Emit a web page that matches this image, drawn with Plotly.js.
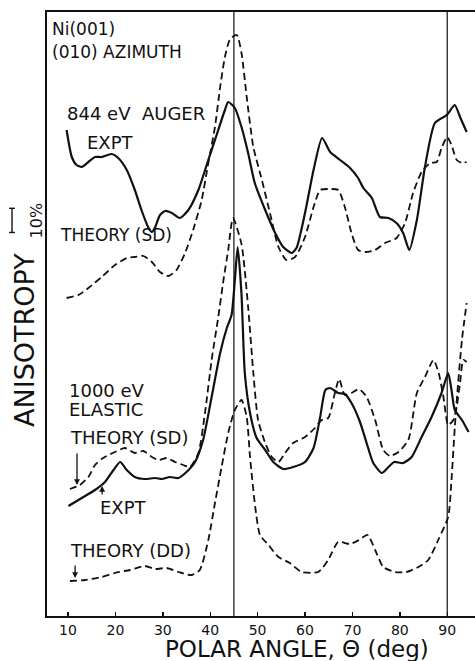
<!DOCTYPE html>
<html>
<head>
<meta charset="utf-8">
<script src="https://cdn.plot.ly/plotly-3.0.1.min.js"></script>
<style>html,body{margin:0;padding:0;background:#fff;}#chart{width:475px;height:661px;}</style>
</head>
<body>
<div id="chart"></div>
<script>
// Polar angle (deg) and anisotropy (arbitrary offset units)
const augerExptX = [9.7,10.8,11.8,12.9,14.3,15.7,17.1,19.2,20.6,22.4,24.1,25.5,26.9,27.7,28.4,29.4,30.5,31.9,33.6,35.4,37.5,39.6,41.7,43.1,43.8,45.2,46.6,48.0,49.4,51.6,53.7,55.4,57.2,58.2,60.0,61.8,63.6,65.3,67.4,69.5,71.2,72.3,74.1,75.8,77.6,79.3,80.7,82.0,83.6,85.3,87.4,89.9,91.6,92.7,94.1];
const augerExptY = [486,459,451,449,454,459,459,462,458,446,426,406,389,384,389,401,405,403,398,406,426,456,486,506,514,508,489,463,433,406,383,369,363,368,403,446,478,464,456,448,438,428,418,399,398,393,383,366,396,449,493,501,511,499,484];

const augerSdX = [9.7,12.2,14.3,17.1,19.9,22.4,24.1,25.9,27.7,29.4,31.2,32.9,34.7,36.4,38.2,39.6,41.0,42.1,43.1,44.2,45.6,46.6,47.7,49.1,50.9,52.6,54.4,56.1,57.9,60.0,61.8,63.2,64.9,67.0,68.4,69.8,71.2,72.7,74.8,76.9,79.3,81.1,82.8,84.6,86.4,87.8,88.8,90.0,90.9,92.0,93.1,94.1];
const augerSdY = [318,321,328,339,351,358,359,360,354,344,340,346,363,386,416,453,489,529,559,577,581,563,519,469,436,403,369,356,359,379,409,426,427,426,409,383,366,364,366,373,378,393,423,444,453,454,468,479,471,456,453,454];

const elasticSdX = [10.4,12.5,14.3,15.7,17.4,19.9,22.0,24.1,25.9,27.7,29.1,30.8,32.6,34.3,35.7,37.5,38.9,40.3,41.7,42.8,43.8,44.8,46.6,48.0,49.1,50.1,51.6,53.0,54.4,55.8,57.5,60.0,62.1,63.5,64.9,66.3,67.2,68.4,69.8,71.4,73.0,74.8,76.5,77.9,79.7,81.8,83.6,85.3,87.1,88.2,89.2,90.2,91.3,92.0,92.7,93.4,94.1];
const elasticSdY = [127,131,139,151,158,164,168,163,165,159,156,158,154,151,149,163,203,256,299,336,366,398,372,309,243,196,173,159,154,163,173,179,188,196,198,223,237,221,223,227,219,196,166,160,164,176,223,239,256,243,219,191,196,209,233,256,254];

const elasticExptX = [10.1,12.9,15.7,17.8,19.6,21.0,22.4,24.1,26.2,28.4,29.8,31.5,33.3,35.0,36.8,38.5,40.3,42.1,43.5,44.5,45.2,45.8,46.6,47.3,48.4,49.8,51.6,53.3,55.4,57.5,60.0,61.8,63.2,64.3,65.3,67.0,68.4,69.8,71.6,73.0,74.4,76.2,77.6,78.8,80.7,82.5,84.6,86.7,88.8,90.2,90.9,91.6,93.1,94.5];
const elasticExptY = [110,118,126,134,146,154,146,139,137,138,137,139,138,144,154,176,219,263,288,301,336,369,322,243,203,178,166,154,147,149,154,168,199,226,228,223,222,213,194,173,153,143,149,154,153,159,179,199,223,243,226,206,196,184];

const elasticDdX = [10.4,13.6,17.1,19.9,23.1,26.2,28.4,30.8,33.3,36.1,37.8,39.6,41.0,42.4,43.8,45.2,46.6,47.7,48.4,49.5,50.5,52.3,54.4,56.8,59.3,62.8,64.9,67.0,69.5,71.4,73.2,74.8,76.5,79.0,81.4,83.9,86.0,88.1,90.2,90.9,91.6,92.3,93.1,94.1];
const elasticDdY = [35,36,39,43,46,50,47,48,44,41,46,76,113,149,183,206,216,199,159,109,81,71,59,53,44,44,56,74,72,76,81,66,49,44,44,49,56,76,99,136,189,233,276,313];

const tickVals = [10,20,30,40,50,60,70,80,90];
const tickText = ["10","20","30","40","50","60","70","80","90"];
const refAngles = [45, 90];

const FONT = "DejaVu Sans, Liberation Sans, sans-serif";
const solid = {color:'#111', width:2.2, shape:'spline', smoothing:0.6};
const dashed = {color:'#111', width:1.8, dash:'7px,4px', shape:'spline', smoothing:0.6};

const traces = [
  {x:augerExptX, y:augerExptY, mode:'lines', line:solid, name:'844 eV Auger expt'},
  {x:augerSdX, y:augerSdY, mode:'lines', line:dashed, name:'844 eV theory (SD)'},
  {x:elasticSdX, y:elasticSdY, mode:'lines', line:dashed, name:'1000 eV theory (SD)'},
  {x:elasticExptX, y:elasticExptY, mode:'lines', line:solid, name:'1000 eV expt'},
  {x:elasticDdX, y:elasticDdY, mode:'lines', line:dashed, name:'1000 eV theory (DD)'}
];

const shapes = refAngles.map(a => ({type:'line', xref:'x', yref:'paper', x0:a, x1:a, y0:0, y1:1, line:{color:'#111', width:1.2}}));
// 10% scale bar
shapes.push({type:'line', xref:'paper', yref:'paper', x0:-0.0817, x1:-0.0817, y0:0.635, y1:0.675, line:{color:'#111', width:1.4}});
shapes.push({type:'line', xref:'paper', yref:'paper', x0:-0.0885, x1:-0.075, y0:0.675, y1:0.675, line:{color:'#111', width:1.4}});
shapes.push({type:'line', xref:'paper', yref:'paper', x0:-0.0885, x1:-0.075, y0:0.635, y1:0.635, line:{color:'#111', width:1.4}});

function lab(text, x, y, size) {
  return {text:text, x:x, y:y, xref:'x', yref:'y', xanchor:'left', yanchor:'middle', showarrow:false, font:{family:FONT, size:size||18, color:'#111'}};
}
function arrow(x, y, ay) {
  return {text:'', x:x, y:y, xref:'x', yref:'y', ax:0, ay:ay, showarrow:true, arrowhead:2, arrowsize:0.9, arrowwidth:1.3, arrowcolor:'#111'};
}

const annotations = [
  lab('Ni(001)', 6.2, 587, 17),
  lab('(010) AZIMUTH', 6.2, 564, 17),
  lab('844 eV  AUGER', 9.37, 503, 18),
  lab('EXPT', 13.6, 474, 18),
  lab('THEORY (SD)', 7.9, 381, 17),
  lab('1000 eV', 9.8, 226, 18),
  lab('ELASTIC', 9.8, 207, 18),
  lab('THEORY (SD)', 10.0, 179, 18),
  arrow(11.9, 131, -33),
  lab('EXPT', 16.3, 109, 18),
  arrow(17.2, 130, 10),
  lab('THEORY (DD)', 10.0, 66, 18),
  arrow(11.5, 38, -14),
  {text:'ANISOTROPY', xref:'paper', yref:'paper', x:-0.0514, y:0.457, xanchor:'center', yanchor:'middle', textangle:-90, showarrow:false, font:{family:FONT, size:27, color:'#111'}},
  {text:'10%', xref:'paper', yref:'paper', x:-0.0257, y:0.655, xanchor:'center', yanchor:'middle', textangle:-90, showarrow:false, font:{family:FONT, size:16, color:'#111'}},
  {text:'POLAR ANGLE, Θ (deg)', xref:'paper', yref:'paper', x:0.584, y:-0.0786, xanchor:'center', yanchor:'bottom', showarrow:false, borderpad:0, font:{family:FONT, size:23, color:'#111'}}
];

const layout = {
  width:475, height:661,
  margin:{l:47, r:0, t:12, b:45},
  paper_bgcolor:'#fff', plot_bgcolor:'#fff',
  showlegend:false,
  xaxis:{range:[5.57, 95.86], showgrid:false, zeroline:false, showline:true, mirror:true, linecolor:'#111', linewidth:2,
         ticks:'inside', ticklen:4, tickwidth:1.4, tickcolor:'#111', tickvals:tickVals, ticktext:tickText,
         ticklabelstandoff:0, tickfont:{family:FONT, size:14, color:'#111'}},
  yaxis:{range:[0, 604], showgrid:false, zeroline:false, showline:true, linecolor:'#111', linewidth:2, showticklabels:false, ticks:''},
  shapes:shapes,
  annotations:annotations
};

Plotly.newPlot('chart', traces, layout, {displayModeBar:false, staticPlot:true});
</script>
</body>
</html>
